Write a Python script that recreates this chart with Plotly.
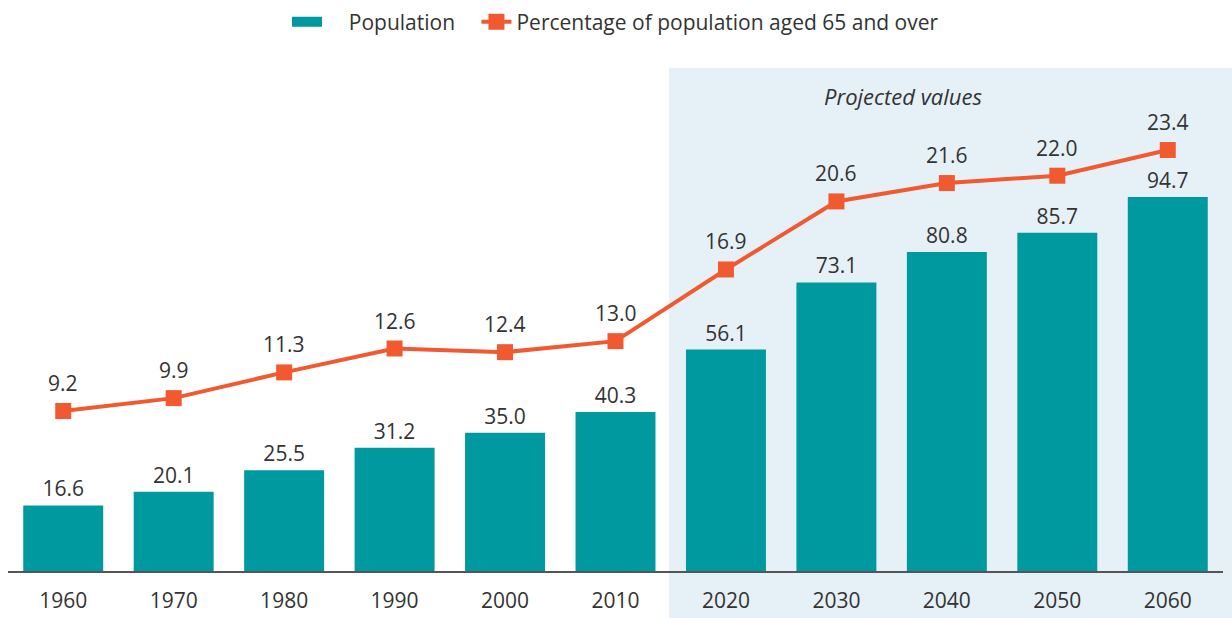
import plotly.graph_objects as go

years = ["1960", "1970", "1980", "1990", "2000", "2010", "2020", "2030", "2040", "2050", "2060"]
population = [16.6, 20.1, 25.5, 31.2, 35.0, 40.3, 56.1, 73.1, 80.8, 85.7, 94.7]
pct_65 = [9.2, 9.9, 11.3, 12.6, 12.4, 13.0, 16.9, 20.6, 21.6, 22.0, 23.4]

TEAL = "#00999f"
ORANGE = "#f15a31"
TXT = "#333333"
FONT = "Open Sans"
FS = 21
NB = "\u00a0"

fig = go.Figure()
fig.add_trace(go.Bar(
    x=years, y=population, name="Population", showlegend=False,
    marker=dict(color=TEAL, line=dict(width=0)),
    text=[f"{v:.1f}" for v in population], textposition="outside",
    textfont=dict(size=FS, color=TXT, family=FONT),
    cliponaxis=False, width=0.724,
))
# legend entry for the bars (wide rectangle swatch)
fig.add_trace(go.Scatter(
    x=[None], y=[None], name=NB * 4 + "Population" + NB * 3, mode="lines",
    line=dict(color=TEAL, width=10), showlegend=True,
))
fig.add_trace(go.Scatter(
    x=years, y=pct_65, name="Percentage of population aged 65 and over",
    mode="lines+markers", yaxis="y2",
    line=dict(color=ORANGE, width=4),
    marker=dict(symbol="square", size=16, color=ORANGE),
    cliponaxis=False,
))
for i, v in enumerate(pct_65):
    fig.add_annotation(x=i, y=v, xref="x", yref="y2", text=f"{v:.1f}",
                       showarrow=False, yshift=28, xanchor="center", yanchor="middle",
                       font=dict(size=FS, color=TXT, family=FONT))

H = 503
fig.add_annotation(x=(903 - 8) / 1215, y=(571 - 96) / H, xref="paper", yref="paper",
                   xanchor="center", yanchor="middle",
                   text="<i>Projected values</i>", showarrow=False,
                   font=dict(size=22, color=TXT, family=FONT))

fig.add_shape(type="rect", xref="paper", yref="paper",
              x0=(669 - 8) / 1215, x1=(1240 - 8) / 1215,
              y0=(571 - 625) / H, y1=1.0,
              fillcolor="#e6f0f7", line=dict(width=0), layer="below")

fig.update_layout(
    width=1232, height=618,
    margin=dict(l=8, r=9, t=68, b=47, autoexpand=False),
    paper_bgcolor="white", plot_bgcolor="rgba(0,0,0,0)",
    font=dict(family=FONT, size=FS, color=TXT),
    showlegend=True,
    legend=dict(orientation="h", x=0.5, xanchor="center", y=1 + (68 - 22) / H, yanchor="middle",
                font=dict(size=21, color=TXT, family=FONT),
                bgcolor="rgba(0,0,0,0)"),
    xaxis=dict(type="category", showline=True, linecolor="#555555", linewidth=1.5,
               ticks="outside", ticklen=10, tickcolor="rgba(0,0,0,0)", automargin=False,
               showgrid=False, tickfont=dict(size=FS, color=TXT, family=FONT),
               range=[-0.5, 10.5]),
    yaxis=dict(range=[0, 127.4], showticklabels=False, showline=False, ticks="",
               showgrid=False, zeroline=False, automargin=False),
    yaxis2=dict(range=[0.495, 27.86], overlaying="y", showticklabels=False, showline=False,
                ticks="", showgrid=False, zeroline=False, automargin=False),
    bargap=0.276,
)

fig.write_html("out.html")
